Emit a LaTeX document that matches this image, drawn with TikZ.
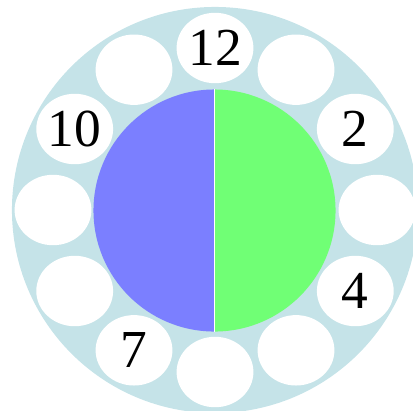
\documentclass[tikz,border=0pt]{standalone}
\usepackage{fontspec}
\setmainfont{Liberation Serif}
\usetikzlibrary{shapes.geometric}
\definecolor{dialblue}{RGB}{197,227,232}
\definecolor{halfblue}{RGB}{123,127,255}
\definecolor{halfgreen}{RGB}{112,255,117}

\begin{document}
\begin{tikzpicture}[x=0.025cm, y=-0.025cm,
    hole/.style={ellipse, fill=white, inner sep=0pt, minimum width=1.92cm, minimum height=1.76cm},
    digit/.style={font=\fontsize{38}{38}\selectfont, inner sep=0pt}]
    \useasboundingbox (0,0) rectangle (413,410);

    % Dial plate
    \fill[dialblue] (215,210) circle[radius=5.075cm];

    % Finger holes
    \foreach \h in {1,...,12}
        \node[hole] (hole\h) at ({215+162*cos(30*\h-90)}, {210+162*sin(30*\h-90)}) {};

    % Numbers
    \node[digit] (lbl12) at (hole12) {12};
    \node[digit] (lbl2) at (hole2) {2};
    \node[digit] (lbl4) at (hole4) {4};
    \node[digit] (lbl7) at (hole7) {7};
    \node[digit] (lbl10) at (hole10) {10};

    % Centre disc, two halves
    \begin{scope}
        \clip (214.5,210.5) circle[radius=3.025cm];
        \fill[halfblue] (80,80) rectangle (214.5,345);
        \fill[halfgreen] (214.5,80) rectangle (345,345);
    \end{scope}
    \draw[white, line width=0.6pt] (214.5,89) -- (214.5,332);
\end{tikzpicture}
\end{document}
